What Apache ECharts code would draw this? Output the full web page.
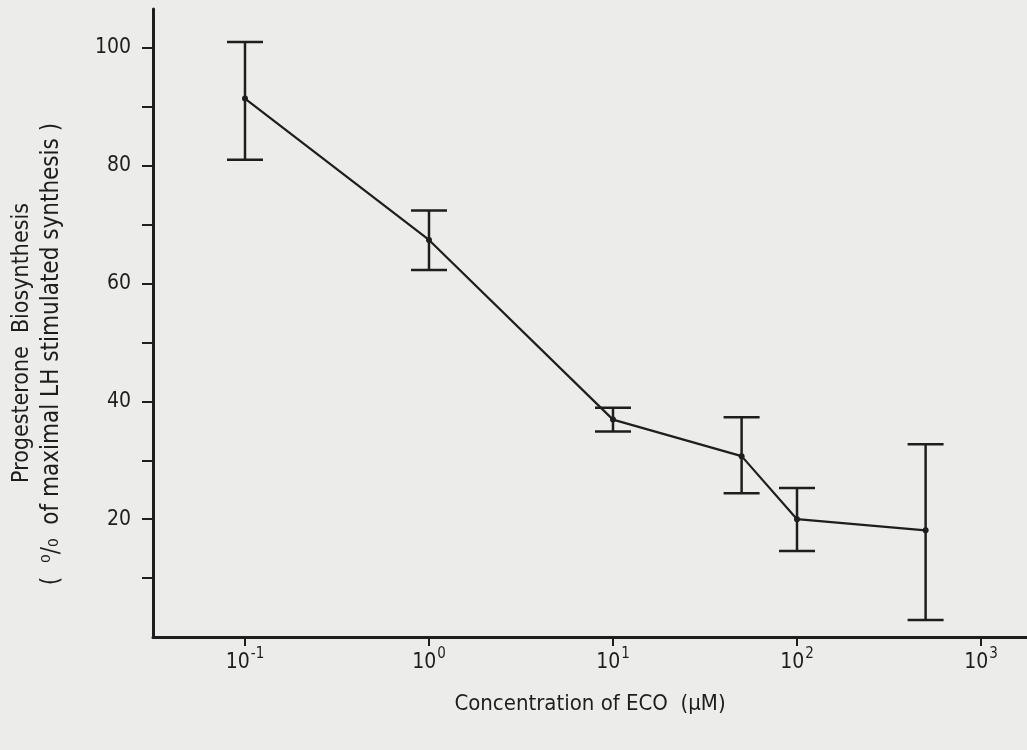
<!DOCTYPE html>
<html>
<head>
<meta charset="utf-8">
<script src="https://cdn.jsdelivr.net/npm/echarts@6/dist/echarts.min.js"></script>
<style>
  html, body { margin: 0; padding: 0; background: #ececea; }
  #chart { width: 1027px; height: 750px; }
</style>
</head>
<body>
<div id="chart"></div>
<script>
// ---- data ----
const concentration = [0.1, 1, 10, 50, 100, 500];           // µM
const meanSynthesis = [91.4, 67.4, 36.9, 30.7, 20.0, 18.1];  // % of maximal LH stimulated synthesis
const errorHigh     = [101.0, 72.4, 38.9, 37.3, 25.3, 32.7];
const errorLow      = [81.0, 62.3, 34.9, 24.4, 14.6, 2.9];
const xTickValues   = [0.1, 1, 10, 100, 1000];
const xTickExponents = ['-1', '0', '1', '2', '3'];
const yTickValues   = [10, 20, 30, 40, 50, 60, 70, 80, 90, 100];
const yLabelValues  = [20, 40, 60, 80, 100];

const FONT = '"Liberation Sans Narrow", "DejaVu Sans Condensed", "Noto Sans", sans-serif';
const INK = '#1e1e1e';

const lineData = concentration.map((c, i) => [c, meanSynthesis[i]]);
const errData = concentration.map((c, i) => [c, errorLow[i], errorHigh[i]]);

const chart = echarts.init(document.getElementById('chart'), null, { renderer: 'canvas' });

chart.setOption({
  backgroundColor: '#ececea',
  animation: false,
  textStyle: { fontFamily: FONT, color: INK },
  grid: { left: 153, right: 0, top: 9, bottom: 113, containLabel: false },
  xAxis: {
    type: 'log',
    logBase: 10,
    min: Math.pow(10, -1.5),
    max: Math.pow(10, 3.25),
    name: 'Concentration of ECO  (µM)',
    nameLocation: 'middle',
    nameGap: 56,
    nameTextStyle: { fontFamily: FONT, fontSize: 22, color: INK },
    axisLine: { show: true, lineStyle: { color: INK, width: 3 } },
    axisTick: { show: true, length: 9, inside: false, customValues: xTickValues, lineStyle: { color: INK, width: 2 } },
    axisLabel: {
      customValues: xTickValues,
      margin: 10,
      formatter: function (v) {
        const idx = xTickValues.findIndex(t => Math.abs(Math.log10(t) - Math.log10(v)) < 1e-6);
        return '{b|10}{s|' + (idx >= 0 ? xTickExponents[idx] : '') + '}';
      },
      rich: {
        b: { fontFamily: FONT, fontSize: 21, color: INK, lineHeight: 26, verticalAlign: 'bottom' },
        s: { fontFamily: FONT, fontSize: 15, color: INK, lineHeight: 26, verticalAlign: 'top', padding: [0, 0, 0, 1] }
      }
    },
    splitLine: { show: false },
    minorTick: { show: false }
  },
  yAxis: {
    type: 'value',
    min: 0,
    max: 106.6,
    axisLine: { show: true, lineStyle: { color: INK, width: 3 } },
    axisTick: { show: true, length: 11, customValues: yTickValues, lineStyle: { color: INK, width: 2 } },
    axisLabel: {
      customValues: yLabelValues,
      margin: 22,
      fontFamily: FONT,
      fontSize: 21,
      color: INK
    },
    splitLine: { show: false }
  },
  graphic: [
    {
      type: 'text',
      x: 22, y: 343,
      rotation: Math.PI / 2,
      style: {
        text: 'Progesterone  Biosynthesis',
        fontFamily: FONT, fontSize: 23, fill: INK,
        align: 'center', verticalAlign: 'middle'
      }
    },
    {
      type: 'text',
      x: 52, y: 354,
      rotation: Math.PI / 2,
      style: {
        text: '(  ⁰/₀  of maximal LH stimulated synthesis )',
        fontFamily: FONT, fontSize: 24, fill: INK,
        align: 'center', verticalAlign: 'middle'
      }
    }
  ],
  series: [
    {
      type: 'line',
      data: lineData,
      symbol: 'circle',
      symbolSize: 6,
      itemStyle: { color: INK },
      lineStyle: { color: INK, width: 2.2 },
      z: 3
    },
    {
      type: 'custom',
      data: errData,
      encode: { x: 0, y: [1, 2] },
      renderItem: function (params, api) {
        const x = api.value(0);
        const lo = api.coord([x, api.value(1)]);
        const hi = api.coord([x, api.value(2)]);
        const half = 18;
        const style = { stroke: INK, lineWidth: 2.5 };
        return {
          type: 'group',
          children: [
            { type: 'line', shape: { x1: lo[0], y1: lo[1], x2: hi[0], y2: hi[1] }, style: style },
            { type: 'line', shape: { x1: hi[0] - half, y1: hi[1], x2: hi[0] + half, y2: hi[1] }, style: style },
            { type: 'line', shape: { x1: lo[0] - half, y1: lo[1], x2: lo[0] + half, y2: lo[1] }, style: style }
          ]
        };
      },
      z: 2
    }
  ]
});
</script>
</body>
</html>
